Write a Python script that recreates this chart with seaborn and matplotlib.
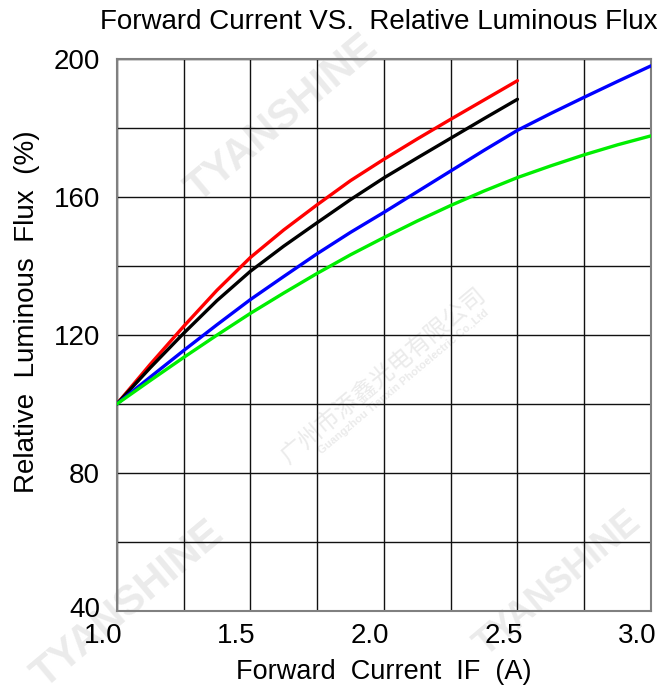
import pandas as pd
import matplotlib.pyplot as plt
import matplotlib.transforms as mtransforms
import seaborn as sns

# values (relative flux in %, 100 % at 1.0 A)
current_short = [1.0, 1.125, 1.25, 1.375, 1.5, 1.625, 1.75, 1.875, 2.0, 2.125, 2.25, 2.375, 2.5]
current_long = current_short + [2.625, 2.75, 2.875, 3.0]

red_flux = [100, 111.5, 122.5, 133.0, 142.5, 150.5, 157.8, 164.8, 171.0, 176.9, 182.6, 188.2, 193.8]
black_flux = [100, 110.5, 120.5, 130.0, 138.5, 145.8, 152.6, 159.3, 165.6, 171.4, 177.1, 182.8, 188.4]
blue_flux = [100, 107.8, 115.5, 123.0, 130.3, 137.0, 143.6, 149.8, 155.6, 161.6, 167.6, 173.6, 179.4,
             184.3, 189.0, 193.6, 198.1]
green_flux = [100, 106.8, 113.5, 120.0, 126.3, 132.2, 137.9, 143.3, 148.3, 153.1, 157.6, 161.8, 165.7,
              169.1, 172.3, 175.2, 177.8]

x_ticks = [1.0, 1.5, 2.0, 2.5, 3.0]
y_ticks = [40, 80, 120, 160, 200]

frames = []
for name, xs, ys in [("red", current_short, red_flux), ("black", current_short, black_flux),
                     ("blue", current_long, blue_flux), ("green", current_long, green_flux)]:
    frames.append(pd.DataFrame({"current": xs, "flux": ys, "curve": name}))
df = pd.concat(frames, ignore_index=True)

sns.set_style("white")
plt.rcParams["font.family"] = ["Liberation Sans", "Noto Sans CJK SC", "DejaVu Sans"]
plt.rcParams["text.color"] = "black"
plt.rcParams["axes.labelcolor"] = "black"
plt.rcParams["xtick.color"] = "black"
plt.rcParams["ytick.color"] = "black"

fig = plt.figure(figsize=(6.72, 6.95), dpi=100)
ax = fig.add_axes([0.1737, 0.1209, 0.7951, 0.7938])

# faint watermarks behind the chart
wm = "#ebebeb"
for x, y, fs in [(0.42, 0.83, 30), (0.19, 0.13, 30), (0.83, 0.16, 26)]:
    fig.text(x, y, "TYANSHINE", fontsize=fs, fontweight="bold", color=wm, rotation=40,
             ha="center", va="center", zorder=-1)
fig.text(0.57, 0.46, "广州市添鑫光电有限公司", fontsize=17, color=wm, rotation=40,
         ha="center", va="center", zorder=-1)
fig.text(0.60, 0.45, "Guangzhou Tianxin Photoelectric Co.,Ltd", fontsize=8, fontweight="bold",
         color=wm, rotation=40, ha="center", va="center", zorder=-1)

ax.patch.set_alpha(0)
sns.lineplot(data=df, x="current", y="flux", hue="curve", sort=False, legend=False,
             palette={"red": "#ff0000", "black": "#000000", "blue": "#0000ff", "green": "#00ee00"},
             linewidth=2.4, ax=ax, zorder=3)

ax.set_xlim(1.0, 3.0)
ax.set_ylim(40, 200)
ax.set_xticks([1.0 + 0.25 * i for i in range(9)], minor=True)
ax.set_yticks([40 + 20 * i for i in range(9)], minor=True)
ax.set_xticks(x_ticks)
ax.set_yticks(y_ticks)
ax.set_xticklabels([f"{v:.1f}" for v in x_ticks])
ax.set_yticklabels([str(v) for v in y_ticks])
ax.grid(True, which="both", color="#111111", linewidth=1.0)
ax.tick_params(which="both", length=0, labelsize=20)
ax.tick_params(axis="x", pad=9)
ax.tick_params(axis="y", pad=12)
# x labels in the reference sit a little left of their grid lines
shift = mtransforms.ScaledTranslation(-0.14, 0, fig.dpi_scale_trans)
for lbl in ax.get_xticklabels():
    lbl.set_transform(lbl.get_transform() + shift)
# lift the bottom "40" a touch so it clears "1.0"
lift = mtransforms.ScaledTranslation(0, 0.04, fig.dpi_scale_trans)
lbl40 = ax.get_yticklabels()[0]
lbl40.set_transform(lbl40.get_transform() + lift)
for s in ax.spines.values():
    s.set_color("#808080")
    s.set_linewidth(1.5)

ax.set_xlabel("Forward  Current  IF  (A)", fontsize=19.5, labelpad=7)
ax.set_ylabel("Relative  Luminous  Flux  (%)", fontsize=20)
ax.yaxis.set_label_coords(-0.143, 0.542)
ax.set_title("Forward Current VS.  Relative Luminous Flux", fontsize=20, pad=22, x=0.49)

fig.savefig("out.png", dpi=100)
plt.close()
